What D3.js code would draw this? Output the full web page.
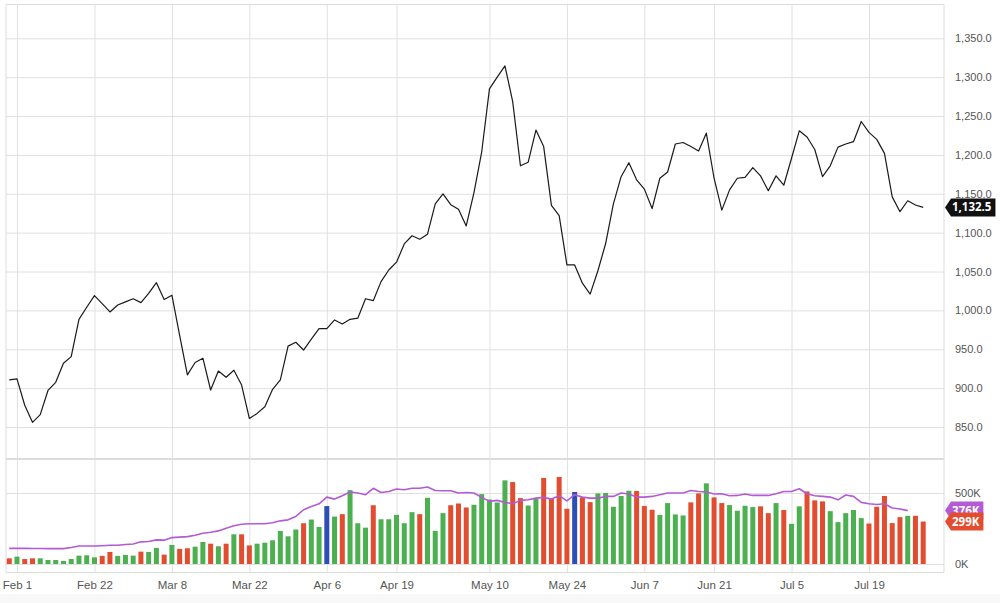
<!DOCTYPE html>
<html>
<head>
<meta charset="utf-8">
<script src="https://cdn.jsdelivr.net/npm/d3@7"></script>
<style>
  body { margin: 0; background: #fff; }
  svg { display: block; font-family: "Open Sans", sans-serif; }
  .grid line { stroke: #e0e0e0; stroke-width: 1; }
  .grid path { display: none; }
  .axis-label text { fill: #555; font-size: 11px; }
  .axis-label path, .axis-label line { display: none; }
</style>
</head>
<body>
<div id="chart"></div>
<script>
// x tick labels and the bar index each one sits on
const tickLabels = ["Feb 1", "Feb 22", "Mar 8", "Mar 22", "Apr 6", "Apr 19", "May 10", "May 24", "Jun 7", "Jun 21", "Jul 5", "Jul 19"];
const tickIndex = [1, 11, 21, 31, 41, 50, 62, 72, 82, 91, 101, 111];

// close before the first bar (first bar is a down day)
const prevClose = 915;

const prices = [
  910.5, 912, 878, 856, 866, 897, 907.5, 932, 940.5, 988.5,
  1004, 1019, 1008.7, 998, 1007, 1011, 1015, 1010, 1022, 1035.7,
  1014, 1019.5, 968, 917, 933, 938.5, 897.6, 922, 914, 923,
  904, 861, 867.5, 876, 898.5, 910.5, 954, 959, 949, 963,
  976.5, 976.5, 987.7, 982.5, 988.5, 990, 1015, 1012.5, 1037, 1052,
  1062, 1085.5, 1096, 1091.5, 1098, 1137, 1150, 1136, 1130, 1108.6,
  1151.5, 1204, 1285, 1300, 1314.5, 1268.6, 1186, 1190.6, 1232, 1210.7,
  1135, 1122, 1058.5, 1058.5, 1035, 1021, 1051, 1086, 1137, 1172,
  1190, 1168, 1156, 1131, 1170, 1178, 1214, 1216, 1210.7, 1205,
  1228, 1170, 1129, 1155, 1170, 1171, 1183.7, 1173, 1154, 1173,
  1161, 1195.7, 1231, 1223, 1207, 1172, 1186, 1210, 1214, 1217,
  1243, 1229, 1220, 1202, 1146, 1127, 1141, 1135.6, 1132.5
];

// volume in thousands
const volumes = [
  40, 52, 35, 40, 40, 28, 28, 21, 35, 59,
  61, 47, 57, 85, 57, 64, 59, 87, 85, 113,
  66, 134, 106, 111, 122, 155, 143, 125, 143, 209,
  209, 131, 143, 150, 167, 233, 195, 243, 287, 313,
  261, 408, 334, 351, 520, 287, 256, 414, 315, 315,
  346, 287, 365, 351, 466, 233, 358, 414, 426, 398,
  417, 492, 454, 433, 589, 577, 464, 412, 460, 606,
  460, 613, 389, 507, 469, 436, 497, 500, 403, 479,
  516, 514, 408, 382, 346, 429, 349, 342, 434, 497,
  568, 469, 429, 415, 375, 410, 401, 406, 358, 429,
  380, 283, 406, 511, 448, 441, 372, 295, 358, 380,
  323, 285, 403, 479, 288, 330, 339, 339, 299
];

// volume moving average in thousands (ends two bars early)
const volumeAvg = [
  110, 110, 110, 109, 109, 108, 108, 108, 116, 127,
  127, 127, 129, 132, 132, 137, 141, 156, 158, 170,
  168, 186, 189, 193, 203, 217, 224, 233, 252, 269,
  280, 283, 283, 283, 290, 304, 311, 335, 382, 405,
  424, 471, 457, 481, 507, 500, 488, 533, 504, 511,
  528, 523, 533, 533, 542, 518, 516, 516, 500, 504,
  500, 469, 441, 448, 434, 424, 448, 452, 464, 469,
  457, 481, 445, 488, 471, 464, 464, 476, 476, 500,
  493, 471, 471, 476, 488, 500, 500, 500, 518, 511,
  507, 493, 495, 481, 483, 493, 483, 483, 483, 495,
  511, 511, 530, 495, 481, 476, 471, 452, 486, 476,
  434, 424, 419, 424, 394, 387, 376
];

const priceTicks = [850, 900, 950, 1000, 1050, 1100, 1150, 1200, 1250, 1300, 1350];
const volumeTicks = [0, 500];

const width = 1000, height = 603;
const left = 6, right = 944;
const priceTop = 4.5, priceBottom = 458.5;
const volTop = 459.5, volBottom = 572.5;

const colours = { up: "#4caf50", down: "#e24d30", flat: "#2c4fb5", avg: "#b45ad4" };

const svg = d3.select("#chart").append("svg")
    .attr("width", width)
    .attr("height", height);

svg.append("rect")
    .attr("x", 0).attr("y", 594)
    .attr("width", width).attr("height", height - 594)
    .attr("fill", "#f8f8f8");

const x = d3.scaleLinear()
    .domain([0, prices.length - 1])
    .range([9.25, 923.2]);

const y = d3.scaleLinear()
    .domain([850, 1350])
    .range([427, 38.3]);

const yVol = d3.scaleLinear()
    .domain([0, 500])
    .range([564, 493]);

// vertical grid through both panels
svg.append("g")
    .attr("class", "grid")
    .attr("transform", "translate(0," + volBottom + ")")
    .call(d3.axisBottom(x).tickValues(tickIndex).tickSize(-(volBottom - priceTop)).tickFormat(""));

// horizontal grid
svg.append("g")
    .attr("class", "grid")
    .attr("transform", "translate(" + right + ",0)")
    .call(d3.axisLeft(y).tickValues(priceTicks).tickSize(right - left).tickFormat(""));
svg.append("g")
    .attr("class", "grid")
    .attr("transform", "translate(" + right + ",0)")
    .call(d3.axisLeft(yVol).tickValues(volumeTicks).tickSize(right - left).tickFormat(""));

// panel borders
const borders = [
  [left, priceTop, right, priceTop],
  [left, priceBottom, right, priceBottom],
  [left, volTop, right, volTop],
  [left, volBottom, right, volBottom],
  [left, priceTop, left, volBottom],
  [right, priceTop, right, volBottom]
];
svg.append("g").selectAll("line")
    .data(borders)
  .enter().append("line")
    .attr("x1", d => d[0]).attr("y1", d => d[1])
    .attr("x2", d => d[2]).attr("y2", d => d[3])
    .attr("stroke", "#dcdcdc");

// axis labels
svg.append("g")
    .attr("class", "axis-label")
    .attr("transform", "translate(" + right + ",0)")
    .call(d3.axisRight(y).tickValues(priceTicks).tickSize(0).tickPadding(11).tickFormat(d3.format(",.1f")));
svg.append("g")
    .attr("class", "axis-label")
    .attr("transform", "translate(" + right + ",0)")
    .call(d3.axisRight(yVol).tickValues(volumeTicks).tickSize(0).tickPadding(11).tickFormat(d => d + "K"));
svg.append("g")
    .attr("class", "axis-label")
    .attr("transform", "translate(0," + volBottom + ")")
    .call(d3.axisBottom(x).tickValues(tickIndex).tickSize(0).tickPadding(8).tickFormat((d, i) => tickLabels[i]))
    .selectAll("text").style("font-size", "11.5px");

// volume bars
const barColour = i => {
  const prev = i === 0 ? prevClose : prices[i - 1];
  if (prices[i] > prev) return colours.up;
  if (prices[i] < prev) return colours.down;
  return colours.flat;
};

svg.append("g").selectAll("rect")
    .data(volumes)
  .enter().append("rect")
    .attr("x", (d, i) => x(i) - 2.5)
    .attr("width", 5)
    .attr("y", d => yVol(d))
    .attr("height", d => yVol(0) - yVol(d))
    .attr("fill", (d, i) => barColour(i));

// volume average
svg.append("path")
    .datum(volumeAvg)
    .attr("fill", "none")
    .attr("stroke", colours.avg)
    .attr("stroke-width", 1.6)
    .attr("stroke-linejoin", "round")
    .attr("d", d3.line().x((d, i) => x(i)).y(d => yVol(d)));

// price line
svg.append("path")
    .datum(prices)
    .attr("fill", "none")
    .attr("stroke", "#1a1a1a")
    .attr("stroke-width", 1.2)
    .attr("stroke-linejoin", "round")
    .attr("d", d3.line().x((d, i) => x(i)).y(d => y(d)));

// last value tags
function tag(cy, label, fill) {
  const g = svg.append("g");
  const path = g.append("path").attr("fill", fill);
  const text = g.append("text")
      .attr("x", right + 8)
      .attr("y", cy)
      .attr("dy", "0.35em")
      .attr("fill", "#fff")
      .attr("font-size", "11.5px")
      .attr("font-weight", "bold")
      .text(label);
  const w = text.node().getComputedTextLength();
  const x0 = right + 1, x1 = right + 8 + w + 4, h = 18;
  path.attr("d", "M" + x0 + "," + cy + "L" + (x0 + 6) + "," + (cy - h / 2) + "H" + x1 +
      "V" + (cy + h / 2) + "H" + (x0 + 6) + "Z");
}

tag(y(prices[prices.length - 1]), d3.format(",.1f")(prices[prices.length - 1]), "#111");
tag(yVol(volumeAvg[volumeAvg.length - 1]), volumeAvg[volumeAvg.length - 1] + "K", colours.avg);
tag(yVol(volumes[volumes.length - 1]), volumes[volumes.length - 1] + "K", colours.down);
</script>
</body>
</html>
